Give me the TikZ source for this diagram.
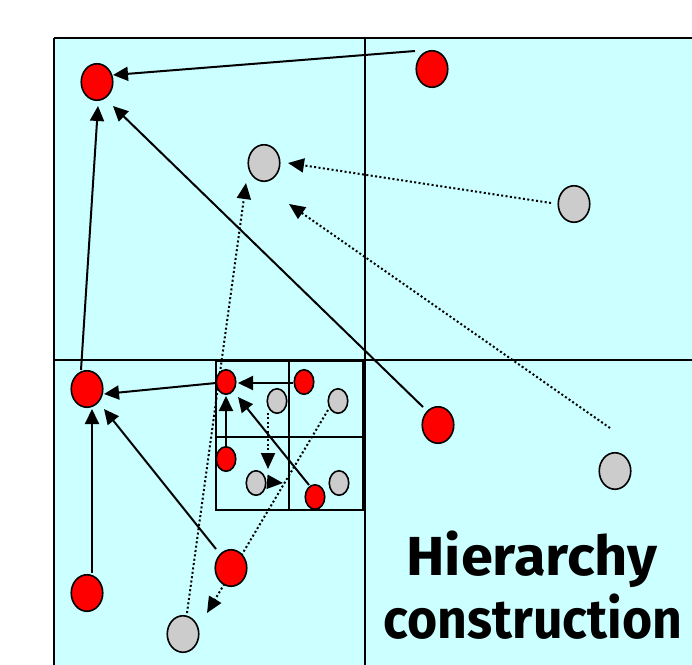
\documentclass[tikz,border=0pt]{standalone}
\usepackage{fontspec}
\newfontfamily\titlefont{Fira Sans}
\usetikzlibrary{arrows.meta,calc,shapes.geometric}
\definecolor{bgcyan}{HTML}{CCFFFF}
\definecolor{ptgray}{HTML}{CCCCCC}
\definecolor{ptred}{HTML}{FF0000}
\pgfdeclarelayer{bg}
\pgfdeclarelayer{edges}
\pgfsetlayers{bg,edges,main}
\begin{document}
\begin{tikzpicture}[x=1pt,y=-1pt,
  bigpt/.style={ellipse,draw=black,line width=1.6pt,inner sep=0pt,minimum width=31.5pt,minimum height=36.5pt},
  smallpt/.style={ellipse,draw=black,line width=1.6pt,inner sep=0pt,minimum width=19.5pt,minimum height=24.5pt},
  redpt/.style={fill=ptred},
  graypt/.style={fill=ptgray},
  solidlink/.style={line width=2pt,-{Triangle[length=15pt,width=14pt]}},
  dotlink/.style={line width=2pt,dash pattern=on 2pt off 2.4pt,-{Triangle[length=16pt,width=14pt]}},
  gridline/.style={line width=2pt},
  titletext/.style={font=\titlefont\bfseries\fontsize{55}{63}\selectfont,anchor=base,inner sep=0pt}]
\useasboundingbox (0,0) rectangle (692,664);
\clip (0,0) rectangle (692,664);
% nodes
\node[bigpt,redpt] (R1) at (97,82) {};
\node[bigpt,redpt] (R2) at (432,69) {};
\node[bigpt,redpt] (R3) at (87,389) {};
\node[bigpt,redpt] (R4) at (87,593) {};
\node[bigpt,redpt] (R5) at (231,568) {};
\node[bigpt,redpt] (R6) at (438,425) {};
\node[bigpt,graypt] (G1) at (264,163) {};
\node[bigpt,graypt] (G2) at (574,204) {};
\node[bigpt,graypt] (G3) at (615,471) {};
\node[bigpt,graypt] (G4) at (183,634) {};
\node[smallpt,redpt] (ra) at (226,382) {};
\node[smallpt,redpt] (rb) at (304,382) {};
\node[smallpt,redpt] (rc) at (226,459) {};
\node[smallpt,redpt] (rd) at (315,497) {};
\node[smallpt,graypt] (ga) at (277,401) {};
\node[smallpt,graypt] (gb) at (338,401) {};
\node[smallpt,graypt] (gc) at (256,483) {};
\node[smallpt,graypt] (gd) at (339,483) {};
\node[titletext] (t1) at (532,575) {\scalebox{1.05}[1]{Hierarchy}};
\node[titletext] (t2) at (533,638) {\scalebox{0.94}[1]{construction}};
% background and grid
\begin{pgfonlayer}{bg}
  \fill[bgcyan] (54,38) rectangle (700,670);
  \draw[gridline] (54,38) -- (700,38);
  \draw[gridline] (54,38) -- (54,670);
  \draw[gridline] (365,38) -- (365,670);
  \draw[gridline] (54,360) -- (700,360);
  \draw[gridline] (216,361) rectangle (363,510);
  \draw[gridline] (289,361) -- (289,510);
  \draw[gridline] (216,437) -- (363,437);
\end{pgfonlayer}
% connectors
\begin{pgfonlayer}{edges}
  \draw[solidlink] ($(R2)+(-17,-18)$) -- ($(R1)+(16,-7)$);
  \draw[solidlink] ($(R3)+(-6,-19)$) -- ($(R1)+(1,24)$);
  \draw[solidlink] ($(R6)+(-15,-18)$) -- ($(R1)+(16,24)$);
  \draw[solidlink] ($(R4)+(5,-20)$) -- ($(R3)+(5,20)$);
  \draw[solidlink] ($(R5)+(-15,-19)$) -- ($(R3)+(17,20)$);
  \draw[solidlink] ($(ra)+(-10,1)$) -- ($(R3)+(17,5)$);
  \draw[solidlink] ($(rb)+(-11,1)$) -- ($(ra)+(12,1)$);
  \draw[solidlink] ($(rc)+(0,-12)$) -- ($(ra)+(0,14)$);
  \draw[solidlink] ($(rd)+(-6,-12)$) -- ($(ra)+(12,15)$);
  \draw[dotlink] ($(G2)+(-23,-1)$) -- ($(G1)+(24,0)$);
  \draw[dotlink] ($(G3)+(-5,-43)$) -- ($(G1)+(25,41)$);
  \draw[dotlink] ($(G4)+(4,-21)$) -- ($(G1)+(-18,20)$);
  \draw[dotlink] ($(gb)+(-10,9)$) -- ($(G4)+(24,-21)$);
  \draw[dotlink] ($(ga)+(-9,12)$) -- ($(gc)+(12,-14)$);
  \draw[dotlink] ($(gc)+(14,-1)$) -- ($(gc)+(27,0)$);
\end{pgfonlayer}
\end{tikzpicture}
\end{document}
